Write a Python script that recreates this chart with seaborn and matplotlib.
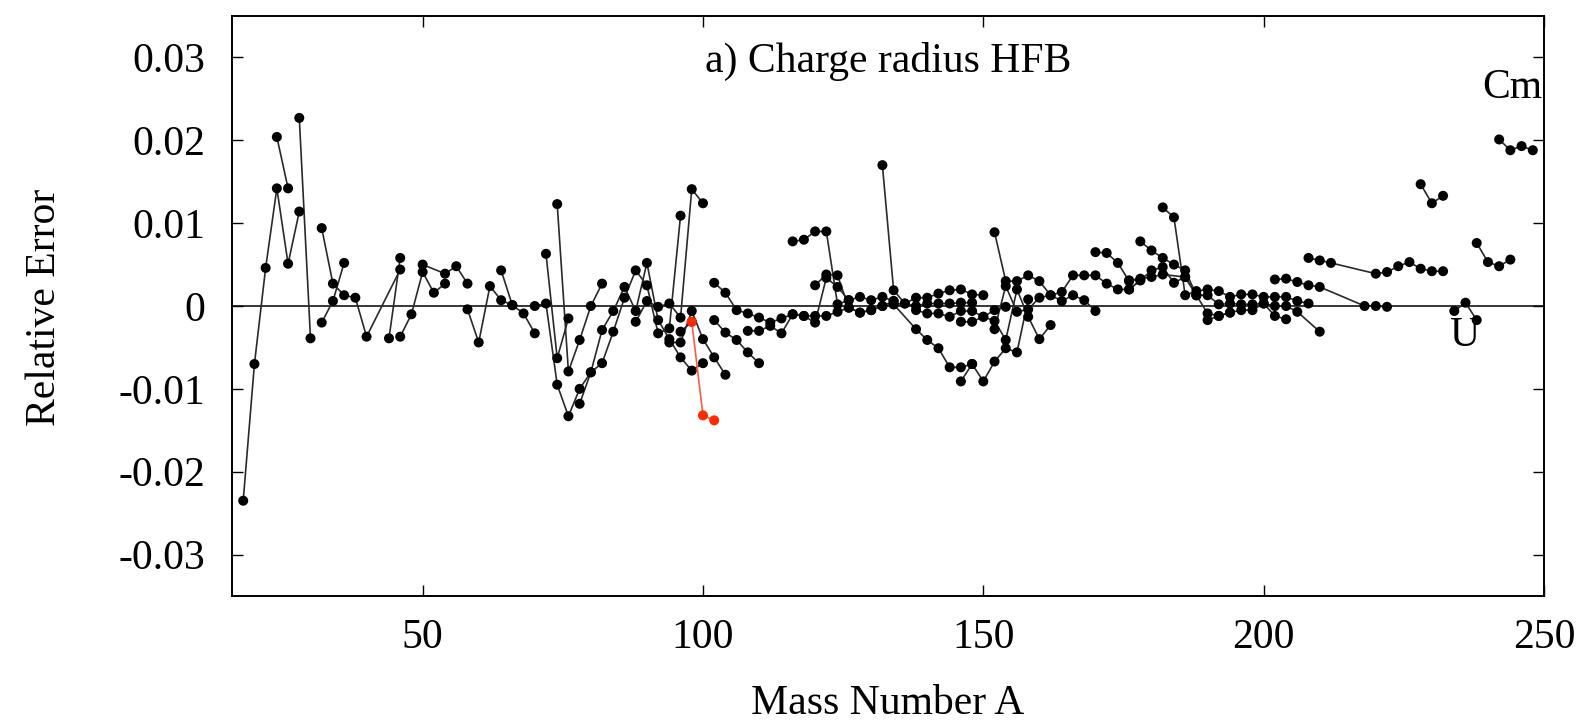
import matplotlib
matplotlib.use("Agg")
import matplotlib.pyplot as plt
import pandas as pd
import seaborn as sns

# ---------------- data (isotopic chains: mass number A, relative error) ----------------
c01_A = [18, 20, 22, 24, 26, 28]
c01_e = [-0.0235, -0.0070, 0.0046, 0.0142, 0.0051, 0.0114]
c02_A = [24, 26]
c02_e = [0.0204, 0.0142]
c03_A = [28, 30]
c03_e = [0.0227, -0.0039]
c04_A = [32, 34, 36, 38, 40, 46]
c04_e = [0.0094, 0.0027, 0.0013, 0.0010, -0.0037, 0.0044]
c05_A = [32, 34, 36]
c05_e = [-0.0020, 0.0006, 0.0052]
c06_A = [44, 46]
c06_e = [-0.0039, 0.0058]
c07_A = [46, 48, 50, 52, 54]
c07_e = [-0.0037, -0.0010, 0.0041, 0.0016, 0.0027]
c08_A = [50, 54, 56, 58]
c08_e = [0.0050, 0.0039, 0.0048, 0.0027]
c09_A = [58, 60, 62, 64, 66, 68, 70]
c09_e = [-0.0004, -0.0044, 0.0024, 0.0007, 0.0001, -0.0009, -0.0033]
c10_A = [64, 66]
c10_e = [0.0043, 0.0001]
c11_A = [70, 72, 74, 76, 78, 80, 82, 84, 86, 88, 90, 92, 94, 96, 98, 100]
c11_e = [0.0, 0.0003, -0.0095, -0.0133, -0.0100, -0.0080, -0.0029, -0.0006,
         0.0023, -0.0006, 0.0052, -0.0017, -0.0040, -0.0062, -0.0078, -0.0069]
c12_A = [72, 74, 76]
c12_e = [0.0063, -0.0063, -0.0015]
c13_A = [74, 76, 78, 80, 82]
c13_e = [0.0123, -0.0079, -0.0041, 0.0, 0.0027]
c14_A = [78, 80, 82, 84, 86, 88, 90, 92, 94, 96]
c14_e = [-0.0118, -0.0080, -0.0069, -0.0031, 0.0010, 0.0043, 0.0025, -0.0033, -0.0027, 0.0109]
c15_A = [88, 90, 92, 94, 96, 98, 100]
c15_e = [-0.0019, 0.0006, -0.0001, 0.0003, -0.0014, 0.0141, 0.0124]
c16_A = [94, 96, 98, 100, 102, 104]
c16_e = [-0.0044, -0.0044, -0.0006, -0.0040, -0.0062, -0.0083]
c17_A = [96, 98]
c17_e = [-0.0031, -0.0019]
c18_A = [102, 104, 106, 108, 110, 112, 114, 116, 118, 120, 122, 124, 126, 128, 130, 132, 134]
c18_e = [0.0028, 0.0016, -0.0005, -0.0009, -0.0014, -0.0020, -0.0015, -0.0010, -0.0012,
         -0.0012, -0.0012, -0.0007, -0.0002, -0.0008, -0.0005, 0.0, 0.0006]
c19_A = [102, 104, 106, 108, 110]
c19_e = [-0.0017, -0.0032, -0.0041, -0.0056, -0.0069]
c20_A = [108, 110, 112, 114, 116, 118, 120, 122, 124, 126]
c20_e = [-0.0030, -0.0030, -0.0024, -0.0033, -0.0010, -0.0012, -0.0020, 0.0034, 0.0023, 0.0007]
c21_A = [116, 118, 120, 122, 124, 126, 128, 130, 132, 134]
c21_e = [0.0078, 0.0080, 0.0090, 0.0090, 0.0002, 0.0007, 0.0011, 0.0007, 0.0011, 0.0006]
c22_A = [120, 122, 124, 126, 128, 130, 132, 134, 136, 138, 140, 142, 144, 146, 148]
c22_e = [0.0025, 0.0038, 0.0037, -0.0002, -0.0008, -0.0005, 0.0, 0.0002, 0.0003, 0.0,
         0.0003, 0.0003, 0.0003, 0.0004, 0.0004]
c23_A = [132, 134, 136, 138, 140, 142, 144, 146, 148, 150]
c23_e = [0.0170, 0.0019, 0.0003, 0.0010, 0.0010, 0.0015, 0.0019, 0.0020, 0.0014, 0.0013]
c24_A = [138, 140, 142, 144, 146, 148, 150, 152, 154]
c24_e = [-0.0005, -0.0009, -0.0009, -0.0013, -0.0006, -0.0006, -0.0013, -0.0005, -0.0001]
c25_A = [134, 138, 140, 142, 144, 146, 148, 150, 152, 154, 156, 158]
c25_e = [0.0002, -0.0028, -0.0041, -0.0051, -0.0074, -0.0074, -0.0070, -0.0091,
         -0.0067, -0.0051, -0.0056, 0.0008]
c26_A = [146, 148]
c26_e = [-0.0091, -0.0070]
c27_A = [146, 148, 150, 152, 154, 156, 158, 160, 162]
c27_e = [-0.0019, -0.0019, -0.0013, -0.0018, -0.0041, 0.0020, -0.0013, -0.0040, -0.0023]
c28_A = [152, 154, 156, 158, 160, 162, 164, 166, 168, 170, 172, 174, 176, 178]
c28_e = [0.0089, 0.0030, 0.0030, 0.0037, 0.0030, 0.0013, 0.0017, 0.0037, 0.0037,
         0.0037, 0.0027, 0.0020, 0.0020, 0.0031]
c29_A = [152, 154, 156, 158, 160, 162, 164, 166, 168, 170]
c29_e = [-0.0028, 0.0024, -0.0007, -0.0004, 0.0010, 0.0013, 0.0006, 0.0013, 0.0007, -0.0006]
c30_A = [170, 172, 174, 176, 178]
c30_e = [0.0065, 0.0064, 0.0052, 0.0030, 0.0033]
c31_A = [182, 184, 186, 188, 190, 192, 194, 196, 198, 200, 202, 204, 206, 208]
c31_e = [0.0119, 0.0107, 0.0013, 0.0018, 0.0020, 0.0018, 0.0011, 0.0014, 0.0014,
         0.0011, 0.0011, 0.0011, 0.0006, 0.0003]
c32_A = [178, 180, 182, 184, 186, 188, 190, 192, 194]
c32_e = [0.0078, 0.0067, 0.0058, 0.0050, 0.0043, 0.0013, -0.0009, -0.0012, -0.0008]
c33_A = [176, 178, 180, 182, 184, 186, 188]
c33_e = [0.0020, 0.0031, 0.0043, 0.0047, 0.0028, 0.0035, 0.0013]
c34_A = [176, 180, 182, 186, 188, 190, 192, 194, 196, 198, 200, 202, 204, 206, 210]
c34_e = [0.0031, 0.0035, 0.0038, 0.0035, 0.0013, 0.0013, 0.0002, 0.0003, 0.0002, 0.0002,
         0.0003, 0.0, 0.0, -0.0007, -0.0031]
c35_A = [190, 192, 194, 196, 198, 200, 202, 204]
c35_e = [-0.0017, -0.0012, -0.0008, -0.0005, -0.0005, 0.0003, -0.0012, -0.0016]
c36_A = [202, 204, 206, 208, 210, 218, 220, 222]
c36_e = [0.0032, 0.0033, 0.0029, 0.0025, 0.0023, 0.0, 0.0, -0.0001]
c37_A = [208, 210, 212, 220, 222, 224, 226, 228, 230, 232]
c37_e = [0.0058, 0.0055, 0.0052, 0.0039, 0.0041, 0.0048, 0.0053, 0.0045, 0.0042, 0.0042]
c38_A = [228, 230, 232]
c38_e = [0.0147, 0.0124, 0.0133]
u_A = [234, 236, 238]
u_e = [-0.0006, 0.0004, -0.0017]
pu_A = [238, 240, 242, 244]
pu_e = [0.0076, 0.0053, 0.0048, 0.0056]
cm_A = [242, 244, 246, 248]
cm_e = [0.0201, 0.0188, 0.0193, 0.0188]

# highlighted (red) chain
red_A = [98, 100, 102]
red_e = [-0.0019, -0.0132, -0.0138]

x_ticks = [50, 100, 150, 200, 250]
x_tick_labels = ["50", "100", "150", "200", "250"]
y_ticks = [-0.03, -0.02, -0.01, 0.0, 0.01, 0.02, 0.03]
y_tick_labels = ["-0.03", "-0.02", "-0.01", "0", "0.01", "0.02", "0.03"]

chains = [
    (c01_A, c01_e), (c02_A, c02_e), (c03_A, c03_e), (c04_A, c04_e), (c05_A, c05_e),
    (c06_A, c06_e), (c07_A, c07_e), (c08_A, c08_e), (c09_A, c09_e), (c10_A, c10_e),
    (c11_A, c11_e), (c12_A, c12_e), (c13_A, c13_e), (c14_A, c14_e), (c15_A, c15_e),
    (c16_A, c16_e), (c17_A, c17_e), (c18_A, c18_e), (c19_A, c19_e), (c20_A, c20_e),
    (c21_A, c21_e), (c22_A, c22_e), (c23_A, c23_e), (c24_A, c24_e), (c25_A, c25_e),
    (c26_A, c26_e), (c27_A, c27_e), (c28_A, c28_e), (c29_A, c29_e), (c30_A, c30_e),
    (c31_A, c31_e), (c32_A, c32_e), (c33_A, c33_e), (c34_A, c34_e), (c35_A, c35_e),
    (c36_A, c36_e), (c37_A, c37_e), (c38_A, c38_e), (u_A, u_e), (pu_A, pu_e), (cm_A, cm_e),
]

rows = []
for i, (aa, ee) in enumerate(chains):
    for a, e in zip(aa, ee):
        rows.append({"chain": i, "A": a, "err": e})
df = pd.DataFrame(rows)
df_red = pd.DataFrame({"chain": 0, "A": red_A, "err": red_e})

# ---------------- style ----------------
sns.set_theme(style="ticks")
plt.rcParams["font.family"] = ["Liberation Serif", "DejaVu Serif"]
plt.rcParams["axes.unicode_minus"] = False
plt.rcParams["text.color"] = "black"
plt.rcParams["axes.labelcolor"] = "black"
plt.rcParams["xtick.color"] = "black"
plt.rcParams["ytick.color"] = "black"

fig, ax = plt.subplots(figsize=(15.88, 7.24), dpi=100)
fig.subplots_adjust(left=232 / 1588, right=1544 / 1588, top=1 - 16 / 724, bottom=1 - 596 / 724)

ax.axhline(0, color="black", lw=1.1, zorder=1)

sns.lineplot(data=df, x="A", y="err", units="chain", estimator=None, sort=False,
             color="#2a2a2a", lw=1.2, ax=ax, legend=False, zorder=2)
sns.scatterplot(data=df, x="A", y="err", color="black", s=52, edgecolor="none",
                ax=ax, legend=False, zorder=3)
sns.lineplot(data=df_red, x="A", y="err", units="chain", estimator=None, sort=False,
             color="#ff5a40", lw=1.2, ax=ax, legend=False, zorder=4)
sns.scatterplot(data=df_red, x="A", y="err", color="#ff2a00", s=52, edgecolor="none",
                ax=ax, legend=False, zorder=5)

ax.set_xlim(16, 250)
ax.set_ylim(-0.035, 0.035)
ax.set_xticks(x_ticks)
ax.set_xticklabels(x_tick_labels)
ax.set_yticks(y_ticks)
ax.set_yticklabels(y_tick_labels)

ax.tick_params(direction="in", length=8, width=1.0, top=True, right=True,
               labelsize=30, colors="black")
ax.tick_params(axis="x", pad=16)
ax.tick_params(axis="y", pad=19)
for sp in ax.spines.values():
    sp.set_visible(True)
    sp.set_linewidth(1.4)
    sp.set_color("black")

ax.set_xlabel("Mass Number A", fontsize=30, color="black")
ax.set_ylabel("Relative Error", fontsize=30, color="black")
ax.xaxis.set_label_coords(0.5, -0.153)
ax.yaxis.set_label_coords(-0.128, 0.497)

ax.text(0.5, 0.903, "a) Charge radius HFB", transform=ax.transAxes,
        ha="center", va="baseline", fontsize=30, color="black")
ax.text(239.0, 0.0251, "Cm", ha="left", va="baseline", fontsize=30, color="black")
ax.text(235.7, -0.0048, "U", ha="center", va="baseline", fontsize=30, color="black")

fig.savefig("out.png", dpi=100)
